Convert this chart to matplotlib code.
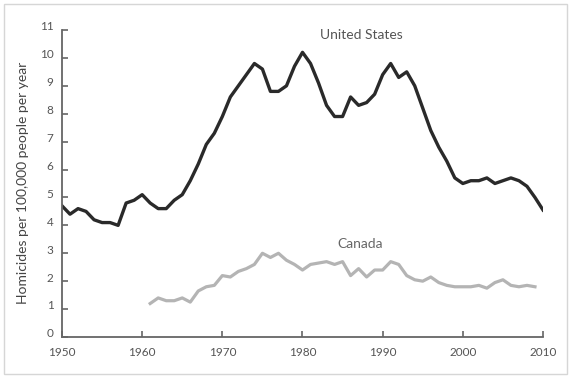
import matplotlib
matplotlib.use("Agg")
import matplotlib.pyplot as plt
import matplotlib.transforms as mtransforms
from matplotlib.patches import Rectangle

us_years = list(range(1950, 2011))
us_rate = [4.7, 4.4, 4.6, 4.5, 4.2, 4.1, 4.1, 4.0, 4.8, 4.9,
           5.1, 4.8, 4.6, 4.6, 4.9, 5.1, 5.6, 6.2, 6.9, 7.3,
           7.9, 8.6, 9.0, 9.4, 9.8, 9.6, 8.8, 8.8, 9.0, 9.7,
           10.2, 9.8, 9.1, 8.3, 7.9, 7.9, 8.6, 8.3, 8.4, 8.7,
           9.4, 9.8, 9.3, 9.5, 9.0, 8.2, 7.4, 6.8, 6.3, 5.7,
           5.5, 5.6, 5.6, 5.7, 5.5, 5.6, 5.7, 5.6, 5.4, 5.0,
           4.55]

ca_years = list(range(1961, 2010))
ca_rate = [1.2, 1.4, 1.3, 1.3, 1.4, 1.25, 1.65, 1.8, 1.85,
           2.2, 2.15, 2.35, 2.45, 2.6, 3.0, 2.85, 3.0, 2.75, 2.6,
           2.4, 2.6, 2.65, 2.7, 2.6, 2.7, 2.2, 2.45, 2.15, 2.4,
           2.4, 2.7, 2.6, 2.2, 2.05, 2.0, 2.15, 1.95, 1.85, 1.8,
           1.8, 1.8, 1.85, 1.75, 1.95, 2.05, 1.85, 1.8, 1.85, 1.8]

x_ticks = [1950, 1960, 1970, 1980, 1990, 2000, 2010]
y_ticks = list(range(0, 12))
y_label = "Homicides per 100,000 people per year"
series_labels = ["United States", "Canada"]

plt.rcParams['font.family'] = ['Lato', 'DejaVu Sans']

fig = plt.figure(figsize=(5.83, 3.91), dpi=100)
fig.patch.set_facecolor('white')
fig.patches.append(Rectangle((3.5 / 583, 17 / 391), 563 / 583, 370 / 391,
                             transform=fig.transFigure, fill=False,
                             edgecolor='#d6d6d6', linewidth=1.0))

ax = fig.add_axes([62 / 583, 54 / 391, 481 / 583, 307 / 391])
ax.plot(us_years, us_rate, color='#2a2a2a', linewidth=2.4, solid_joinstyle='round')
ax.plot(ca_years, ca_rate, color='#b4b4b4', linewidth=2.3, solid_joinstyle='round')

ax.set_xlim(1950, 2010)
ax.set_ylim(0, 11)
ax.set_xticks(x_ticks)
ax.set_yticks(y_ticks)
ax.spines['top'].set_visible(False)
ax.spines['right'].set_visible(False)
for s in ['left', 'bottom']:
    ax.spines[s].set_color('#666666')
    ax.spines[s].set_linewidth(1.3)
ax.tick_params(axis='both', direction='in', length=4, width=1.2, color='#666666',
               labelcolor='#555555', labelsize=8.5)
ax.tick_params(axis='x', pad=7)
ax.tick_params(axis='y', pad=6)
offset = mtransforms.ScaledTranslation(0, 3 / 72, fig.dpi_scale_trans)
for lab in ax.get_yticklabels():
    lab.set_transform(lab.get_transform() + offset)

ax.text(1987.3, 10.83, series_labels[0], ha='center', va='center',
        fontsize=10, color='#555555')
ax.text(1987.2, 3.32, series_labels[1], ha='center', va='center',
        fontsize=10, color='#666666')

fig.text(23 / 583, 1 - 183 / 391, y_label, rotation=90, ha='center', va='center',
         fontsize=10, color='#444444')

fig.savefig('out.png', dpi=100, facecolor='white')
